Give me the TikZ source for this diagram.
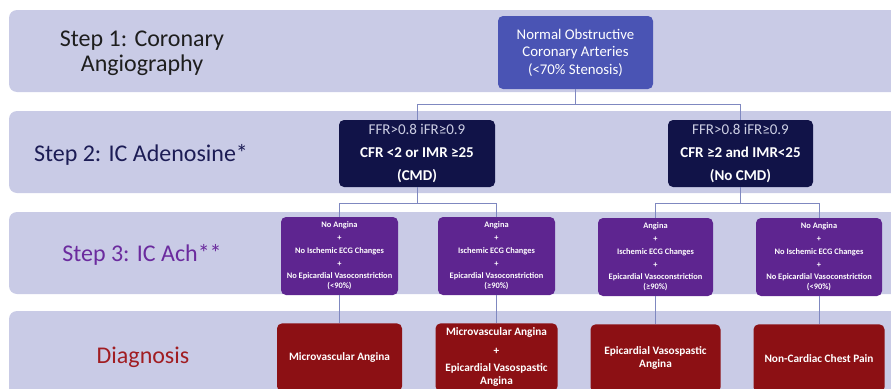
\documentclass[tikz,border=0pt]{standalone}
\usepackage{fontspec}
\setmainfont{Carlito}
\usetikzlibrary{positioning, calc}
\definecolor{bandlav}{HTML}{C9CBE6}
\definecolor{stepblue}{HTML}{4A54B4}
\definecolor{stepnavy}{HTML}{111348}
\definecolor{steppurple}{HTML}{5E2590}
\definecolor{stepred}{HTML}{8C1014}
\definecolor{linkblue}{HTML}{7F88C0}
\definecolor{labelblack}{HTML}{1E1E1E}
\definecolor{labelnavy}{HTML}{1C1C55}
\definecolor{labelpurple}{HTML}{6B2B9E}
\definecolor{labelred}{HTML}{A11D22}
\definecolor{ffrgrey}{HTML}{CDCFE4}

\begin{document}
\begin{tikzpicture}[x=1pt, y=-1pt,
    band/.style={fill=bandlav, rounded corners=8pt},
    steplabel/.style={align=center, font=\fontsize{24}{25}\selectfont},
    box/.style={rounded corners=5pt, align=center, text=white, inner sep=0pt},
    testbox/.style={box, fill=steppurple, minimum height=78pt,
      font=\fontsize{8.4}{12.7}\selectfont\bfseries},
    diagbox/.style={box, fill=stepred, minimum height=68pt,
      font=\fontsize{11.3}{13}\selectfont\bfseries},
    link/.style={draw=linkblue, line width=0.9pt}
  ]
  \useasboundingbox (0,0) rectangle (891,388);
  \clip (0,0) rectangle (891,388);

  % background bands
  \fill[band] (9,10) rectangle (905,92);
  \fill[band] (9,111) rectangle (905,193);
  \fill[band] (9,212) rectangle (905,294);
  \fill[band] (9,311) rectangle (905,420);

  % step labels
  \node[steplabel, text=labelblack] (lab1) at (142,53) {Step 1: Coronary\\Angiography};
  \node[steplabel, text=labelnavy] (lab2) at (141,155) {Step 2: IC Adenosine*};
  \node[steplabel, text=labelpurple] (lab3) at (142,255) {Step 3: IC Ach**};
  \node[steplabel, text=labelred] (lab4) at (143,357) {Diagnosis};

  % step 1
  \node[box, fill=stepblue, minimum width=155pt, minimum height=73pt,
    font=\fontsize{14.8}{17.5}\selectfont] (normal) at (575.5,52.5)
    {Normal Obstructive\\Coronary Arteries\\(<70\% Stenosis)};

  % step 2
  \node[box, fill=stepnavy, minimum width=156pt, minimum height=67pt,
    font=\fontsize{15}{23}\selectfont\bfseries] (cmd) at (417,153.5)
    {{\mdseries\color{ffrgrey}FFR>0.8 iFR≥0.9}\\CFR <2 or IMR ≥25\\(CMD)};
  \node[box, fill=stepnavy, minimum width=145pt, minimum height=67pt,
    font=\fontsize{15}{23}\selectfont\bfseries] (nocmd) at (740.5,153.5)
    {{\mdseries\color{ffrgrey}FFR>0.8 iFR≥0.9}\\CFR ≥2 and IMR<25\\(No CMD)};

  % step 3
  \node[testbox, minimum width=117pt] (achneg) at (339.5,256)
    {No Angina\\+\\No Ischemic ECG Changes\\+\\No Epicardial Vasoconstriction\\[-2.7pt](<90\%)};
  \node[testbox, minimum width=117pt] (achpos) at (496.5,256)
    {Angina\\+\\Ischemic ECG Changes\\+\\Epicardial Vasoconstriction\\[-2.7pt](≥90\%)};
  \node[testbox, minimum width=115pt] (spasm) at (655.5,257)
    {Angina\\+\\Ischemic ECG Changes\\+\\Epicardial Vasoconstriction\\[-2.7pt](≥90\%)};
  \node[testbox, minimum width=126pt] (normach) at (819,257)
    {No Angina\\+\\No Ischemic ECG Changes\\+\\No Epicardial Vasoconstriction\\[-2.7pt](<90\%)};

  % diagnosis
  \node[diagbox, minimum width=125pt, below=28pt of achneg] (mva) {Microvascular Angina};
  \node[diagbox, minimum width=122pt, below=28pt of achpos] (mixed)
    {Microvascular Angina\\[6pt]+\\[4pt]Epicardial Vasospastic\\Angina};
  \node[diagbox, minimum width=130pt, below=28pt of spasm] (eva)
    {Epicardial Vasospastic\\Angina};
  \node[diagbox, minimum width=131pt, below=28pt of normach] (noncard)
    {Non-Cardiac Chest Pain};

  % connectors
  \coordinate (split1) at ($(normal.south)+(0,15)$);
  \coordinate (split2) at ($(cmd.south)+(0,16)$);
  \coordinate (split3) at ($(nocmd.south)+(0,16)$);
  \draw[link] (normal.south) -- (split1) -| (cmd.north);
  \draw[link] (split1) -| (nocmd.north);
  \draw[link] (cmd.south) -- (split2) -| (achneg.north);
  \draw[link] (split2) -| (achpos.north);
  \draw[link] (nocmd.south) -- (split3) -| (spasm.north);
  \draw[link] (split3) -| (normach.north);
  \draw[link] (achneg) -- (mva);
  \draw[link] (achpos) -- (mixed);
  \draw[link] (spasm) -- (eva);
  \draw[link] (normach) -- (noncard);
\end{tikzpicture}
\end{document}
